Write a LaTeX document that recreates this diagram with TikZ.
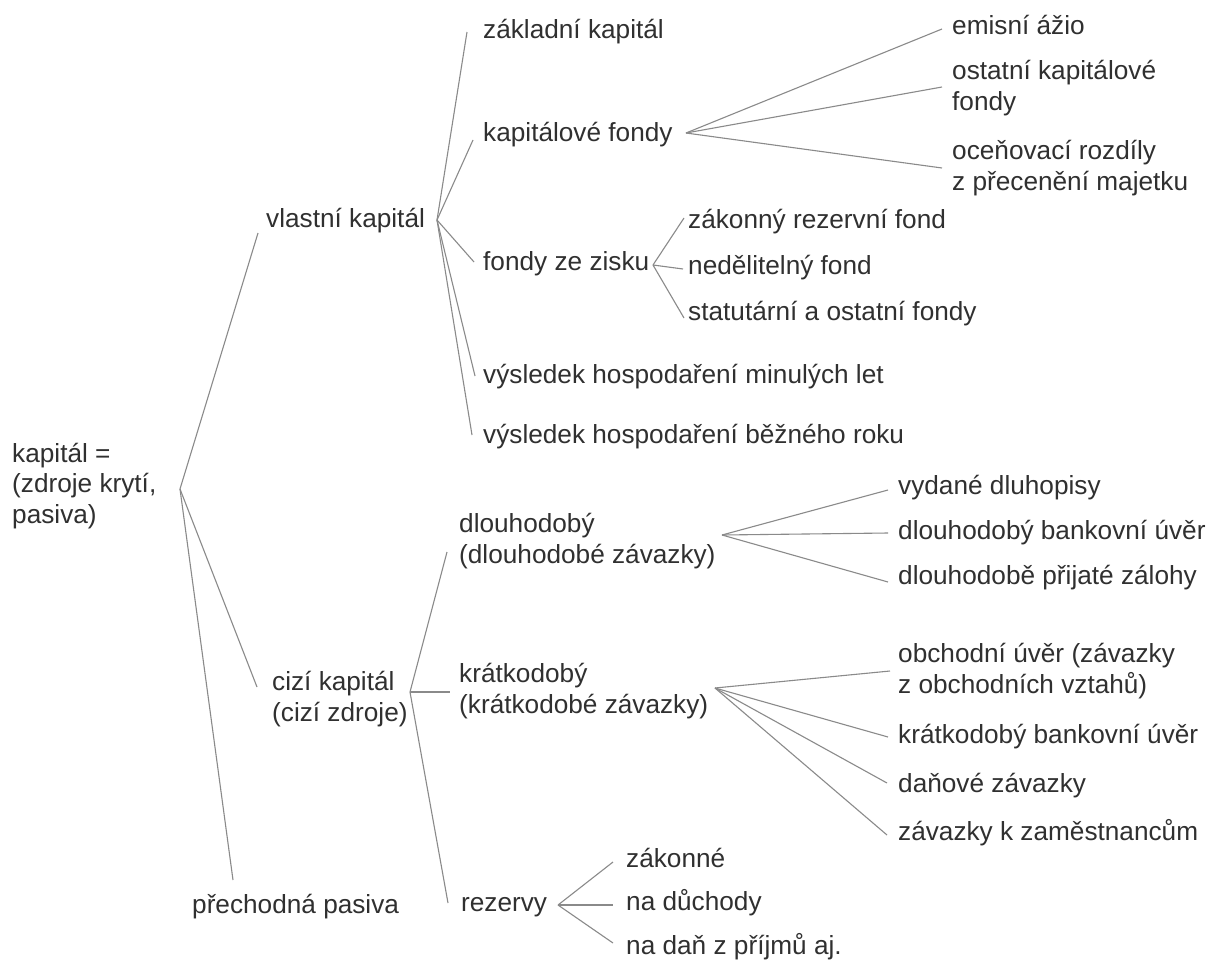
\documentclass[tikz,border=0pt]{standalone}
\usepackage{fontspec}
\setmainfont{Liberation Sans}
\definecolor{txt}{HTML}{303030}
\definecolor{ln}{HTML}{8A8A8A}
\begin{document}
\begin{tikzpicture}[x=1pt,y=-1pt,
  lbl/.style={anchor=west,inner sep=0pt,align=left,text=txt,font=\fontsize{26.2}{30.5}\selectfont},
  br/.style={draw=ln,line width=1.1pt}]
\useasboundingbox[fill=white] (0,0) rectangle (1217,964);

% nodes
\node[lbl] (root) at (12,486) {kapitál =\\(zdroje krytí,\\pasiva)};
\node[lbl] (vk) at (266,221) {vlastní kapitál};
\node[lbl] (ck) at (272,699) {cizí kapitál\\(cizí zdroje)};
\node[lbl] (pp) at (192,907) {přechodná pasiva};

\node[lbl] (zk) at (483,32) {základní kapitál};
\node[lbl] (kf) at (483,135) {kapitálové fondy};
\node[lbl] (fz) at (483,264) {fondy ze zisku};
\node[lbl] (vm) at (483,377) {výsledek hospodaření minulých let};
\node[lbl] (vb) at (483,437) {výsledek hospodaření běžného roku};

\node[lbl] (ea) at (952,25) {emisní ážio};
\node[lbl] (okf) at (952,88) {ostatní kapitálové\\fondy};
\node[lbl] (orz) at (952,168) {oceňovací rozdíly\\z přecenění majetku};

\node[lbl] (zrf) at (688,222) {zákonný rezervní fond};
\node[lbl] (nf) at (688,268) {nedělitelný fond};
\node[lbl] (sof) at (688,314) {statutární a ostatní fondy};

\node[lbl] (dl) at (459,541) {dlouhodobý\\(dlouhodobé závazky)};
\node[lbl] (kr) at (459,691) {krátkodobý\\(krátkodobé závazky)};
\node[lbl] (rez) at (461,907) {rezervy};

\node[lbl] (vd) at (898,488) {vydané dluhopisy};
\node[lbl] (dbu) at (898,533) {dlouhodobý bankovní úvěr};
\node[lbl] (dpz) at (898,578) {dlouhodobě přijaté zálohy};

\node[lbl] (ou) at (898,671) {obchodní úvěr (závazky\\z obchodních vztahů)};
\node[lbl] (kbu) at (898,737) {krátkodobý bankovní úvěr};
\node[lbl] (dz) at (898,786) {daňové závazky};
\node[lbl] (zkz) at (898,833) {závazky k zaměstnancům};

\node[lbl] (zak) at (626,858) {zákonné};
\node[lbl] (nd) at (626,903) {na důchody};
\node[lbl] (ndp) at (626,947) {na daň z příjmů aj.};

% branch points
\coordinate (rootA) at (180,489);
\coordinate (vkA) at (437,220);
\coordinate (kfA) at (686,133);
\coordinate (fzA) at (653,265);
\coordinate (ckA) at (410,692);
\coordinate (dlA) at (722,535);
\coordinate (krA) at (715,688);
\coordinate (rezA) at (558,905);

% connectors
\draw[br] (rootA) -- ([shift={(-8,12)}]vk.west);
\draw[br] (rootA) -- ([shift={(-15,-12)}]ck.west);
\draw[br] (rootA) -- ([shift={(41,-27)}]pp.west);

\draw[br] (vkA) -- ([shift={(-16,0)}]zk.west);
\draw[br] (vkA) -- ([shift={(-10,5)}]kf.west);
\draw[br] (vkA) -- ([shift={(-9,-2)}]fz.west);
\draw[br] (vkA) -- ([shift={(-8,-1)}]vm.west);
\draw[br] (vkA) -- ([shift={(-11,-2)}]vb.west);

\draw[br] (kfA) -- ([shift={(-10,4)}]ea.west);
\draw[br] (kfA) -- ([shift={(-10,-1)}]okf.west);
\draw[br] (kfA) -- ([shift={(-10,0)}]orz.west);

\draw[br] (fzA) -- ([shift={(-4,-4)}]zrf.west);
\draw[br] (fzA) -- ([shift={(-5,1)}]nf.west);
\draw[br] (fzA) -- ([shift={(-4,4)}]sof.west);

\draw[br] (ckA) -- ([shift={(-12,11)}]dl.west);
\draw[br] (ckA) -- ([shift={(-9,1)}]kr.west);
\draw[br] (ckA) -- ([shift={(-13,-4)}]rez.west);

\draw[br] (dlA) -- ([shift={(-10,2)}]vd.west);
\draw[br] (dlA) -- ([shift={(-10,0)}]dbu.west);
\draw[br] (dlA) -- ([shift={(-10,4)}]dpz.west);

\draw[br] (krA) -- ([shift={(-8,0)}]ou.west);
\draw[br] (krA) -- ([shift={(-10,0)}]kbu.west);
\draw[br] (krA) -- ([shift={(-11,-3)}]dz.west);
\draw[br] (krA) -- ([shift={(-11,2)}]zkz.west);

\draw[br] (rezA) -- ([shift={(-13,4)}]zak.west);
\draw[br] (rezA) -- ([shift={(-13,2)}]nd.west);
\draw[br] (rezA) -- ([shift={(-13,-4)}]ndp.west);
\end{tikzpicture}
\end{document}
